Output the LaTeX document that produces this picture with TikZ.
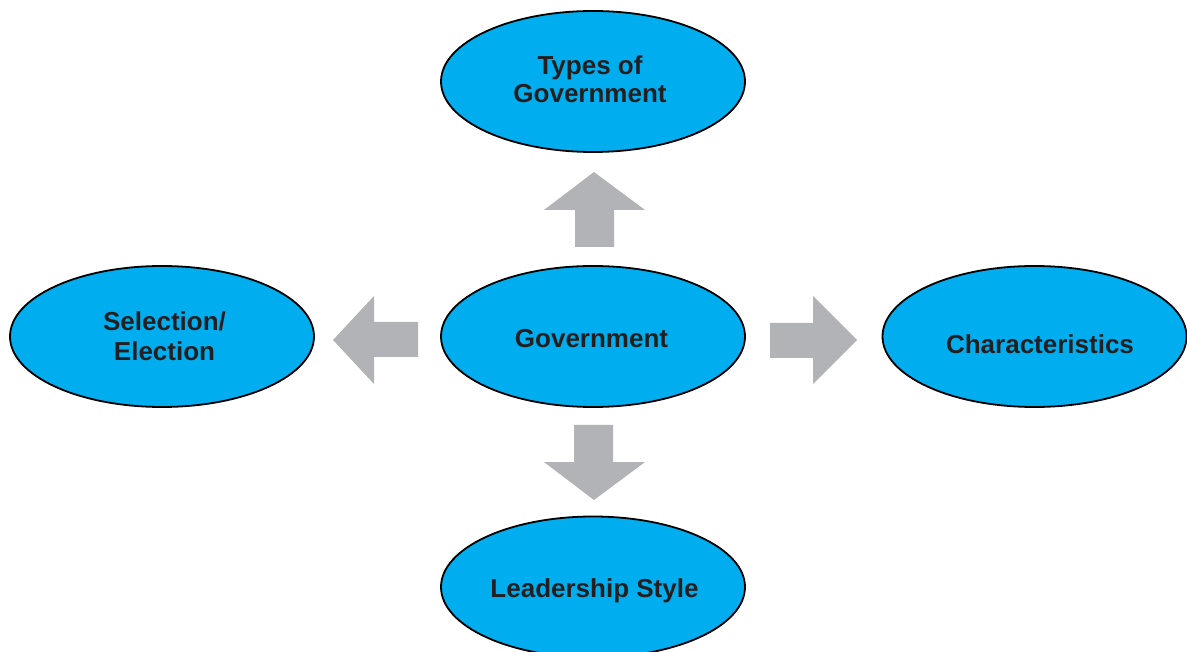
\documentclass[tikz,border=0pt]{standalone}
\usepackage{fontspec}
\setmainfont{Liberation Sans}
\usetikzlibrary{shapes.geometric}
\definecolor{blobfill}{HTML}{00AEEF}
\definecolor{arrowgray}{HTML}{B1B3B6}
\definecolor{inkdark}{HTML}{231F20}
\begin{document}
\begin{tikzpicture}[x=1pt,y=-1pt,
  blob/.style={ellipse, draw=black, line width=1.8pt, fill=blobfill,
    minimum width=304pt, minimum height=141pt, inner sep=0pt},
  lbl/.style={anchor=base, inner sep=0pt, text=inkdark,
    font=\fontsize{26}{28}\selectfont\bfseries},
  blockarrow/.style={fill=arrowgray, draw=none}]
\useasboundingbox (0,0) rectangle (1187,652);
\fill[white] (0,0) rectangle (1187,652);

% ellipses
\node[blob] (types) at (593,81.5) {};
\node[blob] (gov)   at (593,336.5) {};
\node[blob] (sel)   at (162,336.5) {};
\node[blob] (chars) at (1034.5,336.5) {};
\node[blob] (lead)  at (593,587) {};

% labels
\node[lbl] (typesA) at (590,75)  {Types of};
\node[lbl] (typesB) at (590,103) {Government};
\node[lbl] (govT)   at (591.5,347.5) {Government};
\node[lbl] (selA)   at (164.5,331) {Selection/};
\node[lbl] (selB)   at (164.5,361) {Election};
\node[lbl] (charT)  at (1040,353.5) {Characteristics};
\node[lbl] (leadT)  at (594.5,597.5) {Leadership Style};

% block arrows out of the centre
\fill[blockarrow] (575,247) -- (575,210) -- (544,210) -- (594,172)
  -- (645,210) -- (614,210) -- (614,247) -- cycle;
\fill[blockarrow] (574,425) -- (574,462) -- (544,462) -- (594,500)
  -- (645,462) -- (613,462) -- (613,425) -- cycle;
\fill[blockarrow] (418,322) -- (374,322) -- (374,296) -- (333,340)
  -- (374,384) -- (374,357) -- (418,357) -- cycle;
\fill[blockarrow] (770,323) -- (813,323) -- (813,296) -- (857,340)
  -- (813,384) -- (813,358) -- (770,358) -- cycle;
\end{tikzpicture}
\end{document}
